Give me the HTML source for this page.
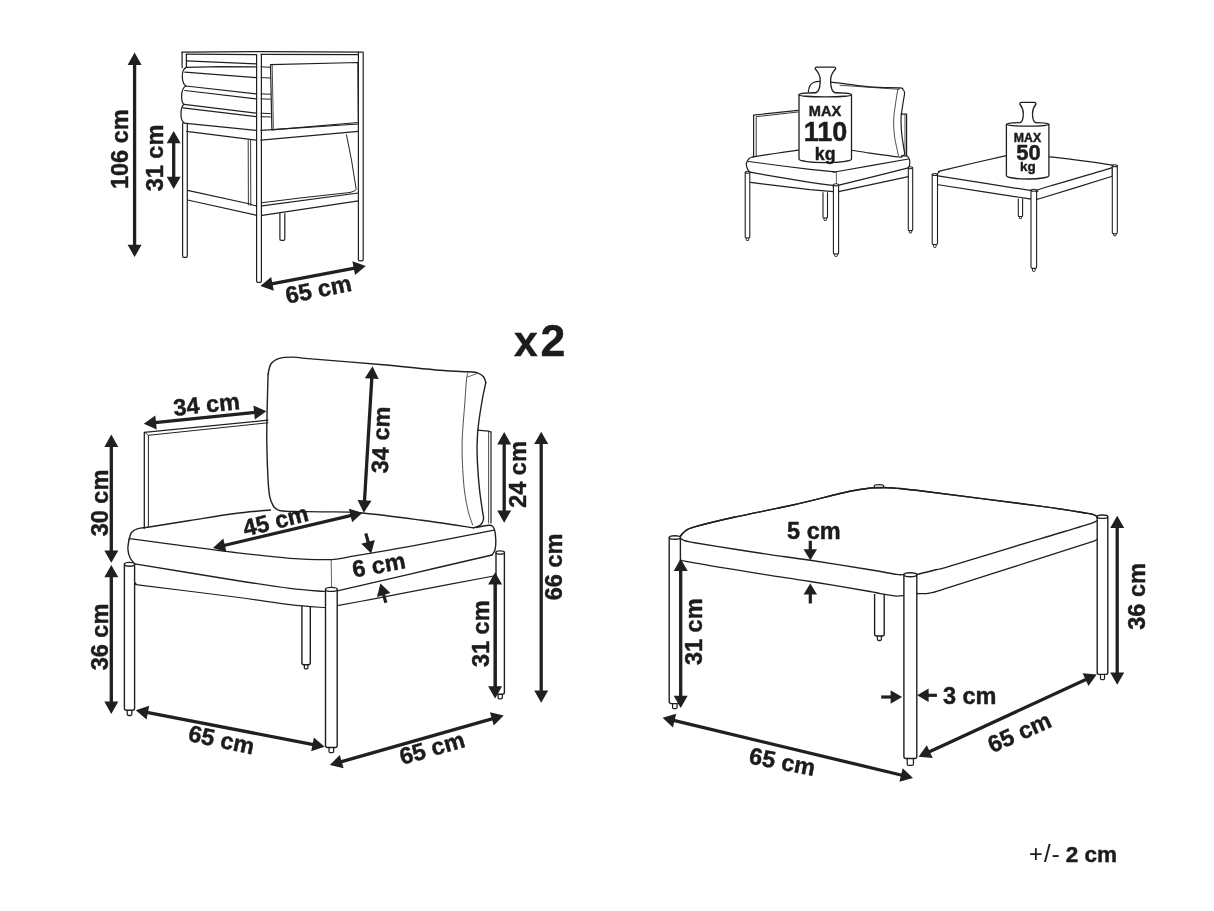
<!DOCTYPE html>
<html><head><meta charset="utf-8"><style>
html,body{margin:0;padding:0;background:#fff;}
svg{display:block;will-change:transform;}
text{font-family:"Liberation Sans",sans-serif;fill:#1c1c1c;stroke:#1c1c1c;stroke-width:0.45px;}
</style></head><body>
<svg width="1214" height="911" viewBox="0 0 1214 911">
<rect width="1214" height="911" fill="#fff"/>
<path d="M182.1,52.2 L270,51.6 L362.3,52.2" fill="none" stroke="#202020" stroke-width="1.25" stroke-linejoin="round" stroke-linecap="round"/>
<path d="M186.4,54.2 L256.5,54.7" fill="none" stroke="#202020" stroke-width="1.25" stroke-linejoin="round" stroke-linecap="round"/>
<path d="M261,54.3 L358.4,54.6" fill="none" stroke="#202020" stroke-width="1.25" stroke-linejoin="round" stroke-linecap="round"/>
<path d="M186.4,60.8 L256.5,63.8" fill="none" stroke="#202020" stroke-width="1.25" stroke-linejoin="round" stroke-linecap="round"/>
<path d="M186.4,67.3 L220,66.6 L256.5,66.8" fill="none" stroke="#202020" stroke-width="1.25" stroke-linejoin="round" stroke-linecap="round"/>
<path d="M186.4,67.3 Q182,69 182.3,77 Q182.6,84 185.9,86" fill="none" stroke="#202020" stroke-width="1.25" stroke-linejoin="round" stroke-linecap="round"/>
<path d="M184.9,72.2 L256.5,77.6" fill="none" stroke="#202020" stroke-width="1.25" stroke-linejoin="round" stroke-linecap="round"/>
<path d="M185.9,86 L256.5,93.9" fill="none" stroke="#202020" stroke-width="1.25" stroke-linejoin="round" stroke-linecap="round"/>
<path d="M185.9,86 Q181.5,88 181.6,97 Q181.8,103 183.9,104.3" fill="none" stroke="#202020" stroke-width="1.25" stroke-linejoin="round" stroke-linecap="round"/>
<path d="M184.9,90.5 L256.5,98.9" fill="none" stroke="#202020" stroke-width="1.25" stroke-linejoin="round" stroke-linecap="round"/>
<path d="M183.9,104.3 L256.5,113.2" fill="none" stroke="#202020" stroke-width="1.25" stroke-linejoin="round" stroke-linecap="round"/>
<path d="M183.9,104.3 Q180.8,107 181,115 Q181.2,121 183.9,122.6" fill="none" stroke="#202020" stroke-width="1.25" stroke-linejoin="round" stroke-linecap="round"/>
<path d="M182.9,107.8 L256.5,116.7" fill="none" stroke="#202020" stroke-width="1.25" stroke-linejoin="round" stroke-linecap="round"/>
<path d="M183.9,123.1 L256.5,130.4" fill="none" stroke="#202020" stroke-width="1.25" stroke-linejoin="round" stroke-linecap="round"/>
<path d="M261,66.8 L270.4,67.3" fill="none" stroke="#202020" stroke-width="1.0" stroke-linejoin="round" stroke-linecap="round"/>
<path d="M261,77.6 L270.4,78" fill="none" stroke="#202020" stroke-width="1.0" stroke-linejoin="round" stroke-linecap="round"/>
<path d="M261,93.9 L270.4,94.2" fill="none" stroke="#202020" stroke-width="1.0" stroke-linejoin="round" stroke-linecap="round"/>
<path d="M261,98.9 L270.4,99.2" fill="none" stroke="#202020" stroke-width="1.0" stroke-linejoin="round" stroke-linecap="round"/>
<path d="M261,113.2 L270.4,113.6" fill="none" stroke="#202020" stroke-width="1.0" stroke-linejoin="round" stroke-linecap="round"/>
<path d="M261,116.7 L270.4,117" fill="none" stroke="#202020" stroke-width="1.0" stroke-linejoin="round" stroke-linecap="round"/>
<line x1="182.1" y1="52.2" x2="182.1" y2="67.5" stroke="#202020" stroke-width="1.25" stroke-linecap="round"/>
<line x1="186.4" y1="54.2" x2="186.4" y2="67.3" stroke="#202020" stroke-width="1.25" stroke-linecap="round"/>
<path d="M182.6,123.5 L182.6,256.1 Q182.6,257.4 183.9,257.4 L186,257.4 Q187.3,257.4 187.3,256.1 L187.3,123.5" fill="none" stroke="#202020" stroke-width="1.2" stroke-linejoin="round" stroke-linecap="round"/>
<path d="M270.5,64.6 L357.9,62.5 L358.4,122.5 L271.9,129.9 Z" fill="none" stroke="#202020" stroke-width="1.2" stroke-linejoin="round" stroke-linecap="round"/>
<line x1="272.2" y1="65" x2="273.4" y2="129.6" stroke="#202020" stroke-width="0.8" stroke-linecap="round"/>
<path d="M186.6,131.3 L256.4,140.1" fill="none" stroke="#202020" stroke-width="1.25" stroke-linejoin="round" stroke-linecap="round"/>
<path d="M261,130.4 L358.4,124" fill="none" stroke="#202020" stroke-width="1.25" stroke-linejoin="round" stroke-linecap="round"/>
<path d="M261,140.1 L358.4,131.3" fill="none" stroke="#202020" stroke-width="1.25" stroke-linejoin="round" stroke-linecap="round"/>
<line x1="248.2" y1="140" x2="248.4" y2="205" stroke="#202020" stroke-width="0.9" stroke-linecap="round"/>
<line x1="250.6" y1="140" x2="250.8" y2="205.5" stroke="#202020" stroke-width="0.9" stroke-linecap="round"/>
<path d="M346.5,134.8 Q352,160 356.2,189.3 Q355,191.5 350,192.5" fill="none" stroke="#202020" stroke-width="1.0" stroke-linejoin="round" stroke-linecap="round"/>
<path d="M262.2,202.7 L300,198 L350,192.5" fill="none" stroke="#202020" stroke-width="1.0" stroke-linejoin="round" stroke-linecap="round"/>
<path d="M187.6,190.4 L250,204 Q254,205.6 256.4,205.8" fill="none" stroke="#202020" stroke-width="1.2" stroke-linejoin="round" stroke-linecap="round"/>
<path d="M187.6,200 L256.4,215.3" fill="none" stroke="#202020" stroke-width="1.25" stroke-linejoin="round" stroke-linecap="round"/>
<path d="M262.2,205.8 L358.4,193" fill="none" stroke="#202020" stroke-width="1.25" stroke-linejoin="round" stroke-linecap="round"/>
<path d="M262.2,215.3 L358.4,200.9" fill="none" stroke="#202020" stroke-width="1.25" stroke-linejoin="round" stroke-linecap="round"/>
<path d="M256.6,54.7 L256.6,281 Q256.6,282.3 257.9,282.3 L260.1,282.3 Q261.4,282.3 261.4,281 L261.4,54.7" fill="none" stroke="#202020" stroke-width="1.2" stroke-linejoin="round" stroke-linecap="round"/>
<path d="M358.4,52.2 L358.4,259.6 Q358.4,260.9 359.7,260.9 L361.9,260.9 Q363.2,260.9 363.2,259.6 L363.2,52.2" fill="none" stroke="#202020" stroke-width="1.2" stroke-linejoin="round" stroke-linecap="round"/>
<path d="M279.9,213.5 L279.9,239 Q279.9,240.3 281.2,240.3 L283.5,240.3 Q284.8,240.3 284.8,239 L284.8,213.5" fill="none" stroke="#202020" stroke-width="1.2" stroke-linejoin="round" stroke-linecap="round"/>
<line x1="134.6" y1="63.9" x2="134.6" y2="245.8" stroke="#202020" stroke-width="3.3"/>
<path d="M134.6,257.1 L127.6,244.8 L141.6,244.8 Z M134.6,52.6 L141.6,64.9 L127.6,64.9 Z" fill="#202020"/>
<line x1="173.7" y1="142.2" x2="173.7" y2="177.7" stroke="#202020" stroke-width="3.3"/>
<path d="M173.7,189 L166.7,176.7 L180.7,176.7 Z M173.7,130.9 L180.7,143.2 L166.7,143.2 Z" fill="#202020"/>
<line x1="271.5" y1="283.97" x2="354.7" y2="268.03" stroke="#202020" stroke-width="3.3"/>
<path d="M365.8,265.9 L355.04,275.09 L352.4,261.34 Z M260.4,286.1 L271.16,276.91 L273.8,290.66 Z" fill="#202020"/>
<text x="0" y="0" transform="translate(119.7,149.2) rotate(-90)" font-size="23.5" font-weight="bold" text-anchor="middle" dominant-baseline="central">106 cm</text>
<text x="0" y="0" transform="translate(154.6,158) rotate(-90)" font-size="23.5" font-weight="bold" text-anchor="middle" dominant-baseline="central">31 cm</text>
<text x="0" y="0" transform="translate(318.4,289.3) rotate(-11.5)" font-size="23.5" font-weight="bold" text-anchor="middle" dominant-baseline="central">65 cm</text>
<path d="M823,192.3 L823,216.88 Q823,218 824.12,218 L826.38,218 Q827.5,218 827.5,216.88 L827.5,192.3" fill="#fff" stroke="#202020" stroke-width="1.1" stroke-linejoin="round"/>
<path d="M824.05,218 L824.05,219.78 Q824.05,220.5 824.77,220.5 L825.73,220.5 Q826.45,220.5 826.45,219.78 L826.45,218" fill="none" stroke="#202020" stroke-width="0.9900000000000001" stroke-linejoin="round" stroke-linecap="round"/>
<path d="M808.3,92 Q809,84.5 813.4,82.5 Q816,81.3 820,81.3" fill="none" stroke="#202020" stroke-width="1.2" stroke-linejoin="round" stroke-linecap="round"/>
<path d="M830,81.8 C836.67,82.65 858.4,85.88 870,86.9 C881.6,87.92 894.17,87.48 899.6,87.9 C905.03,88.32 901.77,88.58 902.6,89.4 C903.43,90.22 904.52,90.58 904.6,92.8 C904.68,95.02 903.68,98.58 903.1,102.7 C902.52,106.82 901.35,112.57 901.1,117.5 C900.85,122.43 901.18,127.35 901.6,132.3 C902.02,137.25 903.1,143.57 903.6,147.2 C904.1,150.83 904.93,152.63 904.6,154.1 C904.27,155.57 902.1,155.68 901.6,156" fill="none" stroke="#202020" stroke-width="1.2" stroke-linejoin="round" stroke-linecap="round"/>
<line x1="840" y1="85.3" x2="899" y2="89.3" stroke="#202020" stroke-width="0.8" stroke-linecap="round"/>
<path d="M899.6,88.2 C899.28,88.63 898.35,88.38 897.7,90.8 C897.05,93.22 896.37,97.92 895.7,102.7 C895.03,107.48 893.87,113.73 893.7,119.5 C893.53,125.27 893.88,131.22 894.7,137.3 C895.52,143.38 897.95,152.88 898.6,156" fill="none" stroke="#202020" stroke-width="0.8" stroke-linejoin="round" stroke-linecap="round"/>
<path d="M851.5,150.2 C854.58,150.68 862.15,151.97 870,153.1 C877.85,154.23 893.33,156.52 898.6,157 C903.87,157.48 901.1,156.17 901.6,156" fill="none" stroke="#202020" stroke-width="1.1" stroke-linejoin="round" stroke-linecap="round"/>
<path d="M753.6,157 L753.6,115.1 L798,110.4" fill="none" stroke="#202020" stroke-width="1.2" stroke-linejoin="round" stroke-linecap="round"/>
<path d="M756.2,156 L756.2,116.7 L798,112" fill="none" stroke="#202020" stroke-width="0.9" stroke-linejoin="round" stroke-linecap="round"/>
<path d="M901.1,114.1 L906.6,114.1 L906.6,156" fill="none" stroke="#202020" stroke-width="1.2" stroke-linejoin="round" stroke-linecap="round"/>
<line x1="905" y1="114.5" x2="905" y2="155.5" stroke="#202020" stroke-width="0.8" stroke-linecap="round"/>
<path d="M753,156.8 C752.42,157.03 750.45,157.5 749.5,158.2 C748.55,158.9 747.83,159.92 747.3,161 C746.77,162.08 746.22,163.3 746.3,164.7 C746.38,166.1 747.2,168.15 747.8,169.4 C748.4,170.65 749.55,171.73 749.9,172.2" fill="none" stroke="#202020" stroke-width="1.25" stroke-linejoin="round" stroke-linecap="round"/>
<path d="M753,156.8 C756.67,156.25 767.43,154.6 775,153.5 C782.57,152.4 794.5,150.75 798.4,150.2" fill="none" stroke="#202020" stroke-width="1.2" stroke-linejoin="round" stroke-linecap="round"/>
<path d="M749.9,172.2 C759.92,173.9 795.98,180.17 810,182.4 C824.02,184.63 829.58,185.03 834,185.6 C838.42,186.17 835.67,185.87 836.5,185.8 C837.33,185.73 827.03,188.2 839,185.2 C850.97,182.2 896.75,170.7 908.3,167.8" fill="none" stroke="#202020" stroke-width="1.25" stroke-linejoin="round" stroke-linecap="round"/>
<path d="M748.3,161.5 C758.58,162.82 795.72,167.72 810,169.4 C824.28,171.08 829.58,171.2 834,171.6 C838.42,172 835.67,171.87 836.5,171.8 C837.33,171.73 827,173.33 839,171.2 C851,169.07 896.92,161.03 908.5,159" fill="none" stroke="#202020" stroke-width="1.15" stroke-linejoin="round" stroke-linecap="round"/>
<path d="M901.6,156 C902.43,156 905.45,155.75 906.6,156 C907.75,156.25 907.97,156.58 908.5,157.5 C909.03,158.42 909.65,160.17 909.8,161.5 C909.95,162.83 909.65,164.45 909.4,165.5 C909.15,166.55 908.48,167.42 908.3,167.8" fill="none" stroke="#202020" stroke-width="1.2" stroke-linejoin="round" stroke-linecap="round"/>
<line x1="836.4" y1="172" x2="836.4" y2="185.6" stroke="#202020" stroke-width="0.7" stroke-linecap="round"/>
<path d="M750.4,182.4 L810,189.7 L833.4,191.6" fill="none" stroke="#202020" stroke-width="1.2" stroke-linejoin="round" stroke-linecap="round"/>
<path d="M838.6,191.6 L908.3,176.7" fill="none" stroke="#202020" stroke-width="1.2" stroke-linejoin="round" stroke-linecap="round"/>
<path d="M745.2,172.3 L745.2,236.85 Q745.2,238 746.35,238 L748.65,238 Q749.8,238 749.8,236.85 L749.8,172.3" fill="#fff" stroke="#202020" stroke-width="1.1" stroke-linejoin="round"/>
<ellipse cx="747.5" cy="172.3" rx="2.3" ry="1" fill="#fff" stroke="#202020" stroke-width="1.1"/>
<path d="M746.3,238 L746.3,239.78 Q746.3,240.5 747.02,240.5 L747.98,240.5 Q748.7,240.5 748.7,239.78 L748.7,238" fill="none" stroke="#202020" stroke-width="0.9900000000000001" stroke-linejoin="round" stroke-linecap="round"/>
<path d="M833.4,184.8 L833.4,252.7 Q833.4,254 834.7,254 L837.3,254 Q838.6,254 838.6,252.7 L838.6,184.8" fill="#fff" stroke="#202020" stroke-width="1.1" stroke-linejoin="round"/>
<ellipse cx="836" cy="184.8" rx="2.6" ry="1.1" fill="#fff" stroke="#202020" stroke-width="1.1"/>
<path d="M834.7,254 L834.7,255.72 Q834.7,256.5 835.48,256.5 L836.52,256.5 Q837.3,256.5 837.3,255.72 L837.3,254" fill="none" stroke="#202020" stroke-width="0.9900000000000001" stroke-linejoin="round" stroke-linecap="round"/>
<path d="M908.3,167.8 L908.3,229.4 Q908.3,230.5 909.4,230.5 L911.6,230.5 Q912.7,230.5 912.7,229.4 L912.7,167.8" fill="#fff" stroke="#202020" stroke-width="1.1" stroke-linejoin="round"/>
<ellipse cx="910.5" cy="167.8" rx="2.2" ry="1" fill="#fff" stroke="#202020" stroke-width="1.1"/>
<path d="M909.3,230.5 L909.3,232.28 Q909.3,233 910.02,233 L910.98,233 Q911.7,233 911.7,232.28 L911.7,230.5" fill="none" stroke="#202020" stroke-width="0.9900000000000001" stroke-linejoin="round" stroke-linecap="round"/>
<path d="M799,94.7 L799,159.1 A26.25,3.5 0 0 0 851.5,159.1 L851.5,94.7 Z" fill="#fff" stroke="none"/>
<path d="M799,94.7 L799,159.1 A26.25,3.5 0 0 0 851.5,159.1 L851.5,94.7" fill="none" stroke="#202020" stroke-width="1.3" stroke-linejoin="round" stroke-linecap="round"/>
<ellipse cx="825.25" cy="94.7" rx="26.25" ry="2.2" fill="none" stroke="#202020" stroke-width="1.3"/>
<path d="M814.9,92.9 Q820.2,92.6 820.2,80 Q820.2,74.19 815.1,68.7 Q815.1,67.1 816.7,67.1 L834.1,67.1 Q835.7,67.1 835.7,68.7 Q830.6,74.19 830.6,80 Q830.6,92.6 835.9,92.9 L833.9,94.7 L816.9,94.7 Z" fill="#fff" stroke="none"/>
<path d="M814.9,92.9 Q820.2,92.6 820.2,80 Q820.2,74.19 815.1,68.7 Q815.1,67.1 816.7,67.1 L834.1,67.1 Q835.7,67.1 835.7,68.7 Q830.6,74.19 830.6,80 Q830.6,92.6 835.9,92.9" fill="none" stroke="#202020" stroke-width="1.3" stroke-linejoin="round"/>
<text x="0" y="0" transform="translate(825,111.3) rotate(0)" font-size="14.6" font-weight="bold" text-anchor="middle" dominant-baseline="central">MAX</text>
<text x="0" y="0" transform="translate(825.6,131.9) rotate(0)" font-size="27" font-weight="bold" text-anchor="middle" dominant-baseline="central">110</text>
<text x="0" y="0" transform="translate(825.2,153.6) rotate(0)" font-size="17.8" font-weight="bold" text-anchor="middle" dominant-baseline="central">kg</text>
<path d="M1018.3,198.4 L1018.3,215.42 Q1018.3,216.5 1019.38,216.5 L1021.52,216.5 Q1022.6,216.5 1022.6,215.42 L1022.6,198.4" fill="#fff" stroke="#202020" stroke-width="1.1" stroke-linejoin="round"/>
<path d="M1019.35,216.5 L1019.35,217.84 Q1019.35,218.5 1020.01,218.5 L1020.89,218.5 Q1021.55,218.5 1021.55,217.84 L1021.55,216.5" fill="none" stroke="#202020" stroke-width="0.9900000000000001" stroke-linejoin="round" stroke-linecap="round"/>
<path d="M936.9,174.7 C937.23,174.07 938.18,172.62 939.5,171.8 C940.82,170.98 933.87,172.45 944.8,169.8 C955.73,167.15 993.9,158.33 1005.1,155.9 C1016.3,153.47 1004.57,155.03 1012,155.2 C1019.43,155.37 1033.53,155.33 1049.7,156.9 C1065.87,158.47 1098.57,163.05 1109,164.6 C1119.43,166.15 1111.88,165.67 1112.3,166.2 C1112.72,166.73 1121.88,164.5 1111.5,167.8 C1101.12,171.1 1062.25,182.33 1050,186 C1037.75,189.67 1040.67,189.03 1038,189.8 C1035.33,190.57 1035.33,190.5 1034,190.6 C1032.67,190.7 1045.5,192.77 1030,190.4 C1014.5,188.03 956.42,178.87 941,176.4 C925.58,173.93 938.18,175.88 937.5,175.6 C936.82,175.32 936.57,175.33 936.9,174.7 Z" fill="#fff" stroke="#202020" stroke-width="1.25" stroke-linejoin="round" stroke-linecap="round"/>
<line x1="936.9" y1="175.5" x2="937.2" y2="184.1" stroke="#202020" stroke-width="1.1" stroke-linecap="round"/>
<line x1="1112.3" y1="167.5" x2="1112.3" y2="176.3" stroke="#202020" stroke-width="1.1" stroke-linecap="round"/>
<path d="M937.3,184.1 C937.75,184.25 924.88,182.58 940,185 C955.12,187.42 1012.78,196.28 1028,198.6 C1043.22,200.92 1030.75,198.85 1031.3,198.9" fill="none" stroke="#202020" stroke-width="1.2" stroke-linejoin="round" stroke-linecap="round"/>
<path d="M1037.4,199 C1038,198.87 1028.52,201.98 1041,198.2 C1053.48,194.42 1100.42,179.95 1112.3,176.3" fill="none" stroke="#202020" stroke-width="1.2" stroke-linejoin="round" stroke-linecap="round"/>
<path d="M932.2,174.5 L932.2,243.18 Q932.2,244.5 933.53,244.5 L936.17,244.5 Q937.5,244.5 937.5,243.18 L937.5,174.5" fill="#fff" stroke="#202020" stroke-width="1.1" stroke-linejoin="round"/>
<ellipse cx="934.85" cy="174.5" rx="2.65" ry="1" fill="#fff" stroke="#202020" stroke-width="1.1"/>
<path d="M933.65,244.5 L933.65,246.78 Q933.65,247.5 934.37,247.5 L935.33,247.5 Q936.05,247.5 936.05,246.78 L936.05,244.5" fill="none" stroke="#202020" stroke-width="0.9900000000000001" stroke-linejoin="round" stroke-linecap="round"/>
<path d="M1031,190.2 L1031,267 Q1031,268.4 1032.4,268.4 L1035.2,268.4 Q1036.6,268.4 1036.6,267 L1036.6,190.2" fill="#fff" stroke="#202020" stroke-width="1.1" stroke-linejoin="round"/>
<ellipse cx="1033.8" cy="190.2" rx="2.8" ry="1" fill="#fff" stroke="#202020" stroke-width="1.1"/>
<path d="M1032.5,268.4 L1032.5,270.62 Q1032.5,271.4 1033.28,271.4 L1034.32,271.4 Q1035.1,271.4 1035.1,270.62 L1035.1,268.4" fill="none" stroke="#202020" stroke-width="0.9900000000000001" stroke-linejoin="round" stroke-linecap="round"/>
<path d="M1112.3,165.8 L1112.3,232.55 Q1112.3,233.8 1113.55,233.8 L1116.05,233.8 Q1117.3,233.8 1117.3,232.55 L1117.3,165.8" fill="#fff" stroke="#202020" stroke-width="1.1" stroke-linejoin="round"/>
<ellipse cx="1114.8" cy="165.8" rx="2.5" ry="1" fill="#fff" stroke="#202020" stroke-width="1.1"/>
<path d="M1113.6,233.8 L1113.6,235.08 Q1113.6,235.8 1114.32,235.8 L1115.28,235.8 Q1116,235.8 1116,235.08 L1116,233.8" fill="none" stroke="#202020" stroke-width="0.9900000000000001" stroke-linejoin="round" stroke-linecap="round"/>
<path d="M1006.4,124.3 L1006.4,175.5 A21.25,3.5 0 0 0 1048.9,175.5 L1048.9,124.3 Z" fill="#fff" stroke="none"/>
<path d="M1006.4,124.3 L1006.4,175.5 A21.25,3.5 0 0 0 1048.9,175.5 L1048.9,124.3" fill="none" stroke="#202020" stroke-width="1.3" stroke-linejoin="round" stroke-linecap="round"/>
<ellipse cx="1027.65" cy="124.3" rx="21.25" ry="1.9" fill="none" stroke="#202020" stroke-width="1.3"/>
<path d="M1019.3,122.8 Q1023.3,122.5 1023.3,113.5 Q1023.3,108.5 1019.8,104 Q1019.8,102.4 1021.4,102.4 L1034.4,102.4 Q1036,102.4 1036,104 Q1032.5,108.5 1032.5,113.5 Q1032.5,122.5 1036.5,122.8 L1034.5,124.3 L1021.3,124.3 Z" fill="#fff" stroke="none"/>
<path d="M1019.3,122.8 Q1023.3,122.5 1023.3,113.5 Q1023.3,108.5 1019.8,104 Q1019.8,102.4 1021.4,102.4 L1034.4,102.4 Q1036,102.4 1036,104 Q1032.5,108.5 1032.5,113.5 Q1032.5,122.5 1036.5,122.8" fill="none" stroke="#202020" stroke-width="1.3" stroke-linejoin="round"/>
<text x="0" y="0" transform="translate(1027.5,138.3) rotate(0)" font-size="12.3" font-weight="bold" text-anchor="middle" dominant-baseline="central">MAX</text>
<text x="0" y="0" transform="translate(1028.4,152.3) rotate(0)" font-size="22" font-weight="bold" text-anchor="middle" dominant-baseline="central">50</text>
<text x="0" y="0" transform="translate(1027.9,166.9) rotate(0)" font-size="13.4" font-weight="bold" text-anchor="middle" dominant-baseline="central">kg</text>
<path d="M301.9,606 L301.9,662.8 Q301.9,664.8 303.9,664.8 L308.3,664.8 Q310.3,664.8 310.3,662.8 L310.3,606" fill="#fff" stroke="#202020" stroke-width="1.4" stroke-linejoin="round"/>
<path d="M304.34,664.8 L304.34,667.74 Q304.34,668.8 305.39,668.8 L306.81,668.8 Q307.86,668.8 307.86,667.74 L307.86,664.8" fill="none" stroke="#202020" stroke-width="1.26" stroke-linejoin="round" stroke-linecap="round"/>
<path d="M273.7,506.7 C273.07,505.15 270.83,501.75 269.9,497.4 C268.97,493.05 268.62,489.62 268.1,480.6 C267.58,471.58 266.97,454.8 266.8,443.3 C266.63,431.8 266.88,423.1 267.1,411.6 C267.32,400.1 267.93,380.52 268.1,374.3" fill="none" stroke="#202020" stroke-width="1.4" stroke-linejoin="round" stroke-linecap="round"/>
<path d="M268.1,374.3 C268.57,372.58 269.03,366.65 270.9,364 C272.77,361.35 275.73,359.55 279.3,358.4 C282.87,357.25 288.02,357.1 292.3,357.1 C296.58,357.1 302.88,358.18 305,358.4" fill="none" stroke="#202020" stroke-width="1.4" stroke-linejoin="round" stroke-linecap="round"/>
<path d="M305,358.4 C317.5,359.42 357.5,362.52 380,364.5 C402.5,366.48 425.38,369.08 440,370.3 C454.62,371.52 461.45,371.38 467.7,371.8 C473.95,372.22 474.87,371.98 477.5,372.8 C480.13,373.62 482.12,375.05 483.5,376.7 C484.88,378.35 485.42,381.7 485.8,382.7" fill="none" stroke="#202020" stroke-width="1.4" stroke-linejoin="round" stroke-linecap="round"/>
<path d="M485.8,382.7 C485.25,385.33 483.72,391.58 482.5,398.5 C481.28,405.42 479.4,416.63 478.5,424.2 C477.6,431.77 477.27,437.32 477.1,443.9 C476.93,450.48 477.1,456.12 477.5,463.7 C477.9,471.28 478.67,481.5 479.5,489.4 C480.33,497.3 481.83,506.17 482.5,511.1 C483.17,516.03 483.83,516.7 483.5,519 C483.17,521.3 482.15,523.42 480.5,524.9 C478.85,526.38 474.75,527.4 473.6,527.9" fill="none" stroke="#202020" stroke-width="1.4" stroke-linejoin="round" stroke-linecap="round"/>
<path d="M467.7,373 C467.5,374.17 467,374.77 466.5,380 C466,385.23 465.43,393.75 464.7,404.4 C463.97,415.05 462.27,430.73 462.1,443.9 C461.93,457.07 462.77,472.53 463.7,483.4 C464.63,494.27 466.22,502.18 467.7,509.1 C469.18,516.02 471.78,522.27 472.6,524.9" fill="none" stroke="#202020" stroke-width="0.8" stroke-linejoin="round" stroke-linecap="round"/>
<line x1="467.7" y1="377" x2="477" y2="373.5" stroke="#202020" stroke-width="0.7" stroke-linecap="round"/>
<path d="M273.7,506.7 C274.63,507.33 276.2,509.72 279.3,510.5 C282.4,511.28 284.68,511.18 292.3,511.4 C299.92,511.62 313.3,511.53 325,511.8 C336.7,512.07 346.67,511.63 362.5,513 C378.33,514.37 401.48,517.52 420,520 C438.52,522.48 464.67,526.58 473.6,527.9" fill="none" stroke="#202020" stroke-width="1.3" stroke-linejoin="round" stroke-linecap="round"/>
<path d="M144.3,528.3 L144.3,432.3 L268,420.2" fill="none" stroke="#202020" stroke-width="1.3" stroke-linejoin="round" stroke-linecap="round"/>
<path d="M148.4,526.4 L148.4,435.3 L268,422.8" fill="none" stroke="#202020" stroke-width="1.0" stroke-linejoin="round" stroke-linecap="round"/>
<line x1="144.6" y1="432.3" x2="148.4" y2="435.3" stroke="#202020" stroke-width="0.8" stroke-linecap="round"/>
<path d="M477.5,430.1 L488.4,431.1 L491,432" fill="none" stroke="#202020" stroke-width="1.2" stroke-linejoin="round" stroke-linecap="round"/>
<line x1="491" y1="432" x2="491" y2="523" stroke="#202020" stroke-width="1.2" stroke-linecap="round"/>
<line x1="488.6" y1="431.5" x2="488.6" y2="523" stroke="#202020" stroke-width="0.8" stroke-linecap="round"/>
<path d="M128.9,540 C129.33,538.75 129.98,534.4 131.5,532.5 C133.02,530.6 135.32,529.47 138,528.6 C140.68,527.73 138.93,528.65 147.6,527.3 C156.27,525.95 175.43,522.8 190,520.5 C204.57,518.2 221.58,515.25 235,513.5 C248.42,511.75 264.58,510.58 270.5,510" fill="none" stroke="#202020" stroke-width="1.4" stroke-linejoin="round" stroke-linecap="round"/>
<path d="M476,527.5 C478.23,527.13 486.4,525.13 489.4,525.3 C492.4,525.47 492.93,526.05 494,528.5 C495.07,530.95 495.63,536.42 495.8,540 C495.97,543.58 495.63,547.5 495,550 C494.37,552.5 492.5,554.17 492,555" fill="none" stroke="#202020" stroke-width="1.4" stroke-linejoin="round" stroke-linecap="round"/>
<path d="M492,555 C485,556.62 463.67,561.52 450,564.7 C436.33,567.88 428.77,569.73 410,574.1 C391.23,578.47 350.65,587.95 337.4,590.9 C324.15,593.85 332.8,591.72 330.5,591.8 C328.2,591.88 330.35,591.97 323.6,591.4 C316.85,590.83 304.77,590.27 290,588.4 C275.23,586.53 260.87,584.28 235,580.2 C209.13,576.12 151.5,566.62 134.8,563.9" fill="none" stroke="#202020" stroke-width="1.4" stroke-linejoin="round" stroke-linecap="round"/>
<path d="M134.8,563.9 C134.03,562.92 131.35,560.4 130.2,558 C129.05,555.6 128.12,552.5 127.9,549.5 C127.68,546.5 128.73,541.58 128.9,540" fill="none" stroke="#202020" stroke-width="1.4" stroke-linejoin="round" stroke-linecap="round"/>
<path d="M129.8,538.7 C138.17,539.8 162.47,543 180,545.3 C197.53,547.6 216.67,550.33 235,552.5 C253.33,554.67 273.92,557.12 290,558.3 C306.08,559.48 321.62,559.85 331.5,559.6 C341.38,559.35 336.22,559 349.3,556.8 C362.38,554.6 385.85,550.83 410,546.4 C434.15,541.97 480.17,532.9 494.2,530.2" fill="none" stroke="#202020" stroke-width="1.3" stroke-linejoin="round" stroke-linecap="round"/>
<line x1="331.2" y1="560" x2="331.6" y2="587.5" stroke="#202020" stroke-width="0.7" stroke-linecap="round"/>
<path d="M134.5,582.2 C134.83,582.55 135.63,583.82 136.5,584.3 C137.37,584.78 123.28,582.98 139.7,585.1 C156.12,587.22 209.95,593.73 235,597 C260.05,600.27 274.9,602.92 290,604.7 C305.1,606.48 319.67,607.2 325.6,607.7" fill="none" stroke="#202020" stroke-width="1.2" stroke-linejoin="round" stroke-linecap="round"/>
<path d="M337.4,605.7 C342.83,604.68 357.9,601.9 370,599.6 C382.1,597.3 388.93,595.92 410,591.9 C431.07,587.88 482,578.23 496.4,575.5" fill="none" stroke="#202020" stroke-width="1.2" stroke-linejoin="round" stroke-linecap="round"/>
<path d="M124.4,564.3 L124.4,708.3 Q124.4,710.3 126.4,710.3 L132.6,710.3 Q134.6,710.3 134.6,708.3 L134.6,564.3" fill="#fff" stroke="#202020" stroke-width="1.4" stroke-linejoin="round"/>
<ellipse cx="129.5" cy="564.3" rx="5.1" ry="1.9" fill="#fff" stroke="#202020" stroke-width="1.4"/>
<path d="M127.2,710.3 L127.2,714.3 Q127.2,715.5 128.4,715.5 L130.6,715.5 Q131.8,715.5 131.8,714.3 L131.8,710.3" fill="none" stroke="#202020" stroke-width="1.26" stroke-linejoin="round" stroke-linecap="round"/>
<path d="M325.5,589.4 L325.5,745.5 Q325.5,747.5 327.5,747.5 L335.2,747.5 Q337.2,747.5 337.2,745.5 L337.2,589.4" fill="#fff" stroke="#202020" stroke-width="1.4" stroke-linejoin="round"/>
<ellipse cx="331.35" cy="589.4" rx="5.85" ry="2" fill="#fff" stroke="#202020" stroke-width="1.4"/>
<path d="M329.05,747.5 L329.05,751.5 Q329.05,752.7 330.25,752.7 L332.45,752.7 Q333.65,752.7 333.65,751.5 L333.65,747.5" fill="none" stroke="#202020" stroke-width="1.26" stroke-linejoin="round" stroke-linecap="round"/>
<path d="M496,552.5 L496,692.3 Q496,694.3 498,694.3 L502.4,694.3 Q504.4,694.3 504.4,692.3 L504.4,552.5" fill="#fff" stroke="#202020" stroke-width="1.4" stroke-linejoin="round"/>
<ellipse cx="500.2" cy="552.5" rx="4.2" ry="1.6" fill="#fff" stroke="#202020" stroke-width="1.4"/>
<path d="M498.1,694.3 L498.1,697.7 Q498.1,698.9 499.3,698.9 L501.1,698.9 Q502.3,698.9 502.3,697.7 L502.3,694.3" fill="none" stroke="#202020" stroke-width="1.26" stroke-linejoin="round" stroke-linecap="round"/>
<line x1="111.3" y1="445.9" x2="111.3" y2="551.4" stroke="#202020" stroke-width="3.3"/>
<path d="M111.3,562.7 L104.3,550.4 L118.3,550.4 Z M111.3,434.6 L118.3,446.9 L104.3,446.9 Z" fill="#202020"/>
<line x1="111.3" y1="576.3" x2="111.3" y2="702.6" stroke="#202020" stroke-width="3.3"/>
<path d="M111.3,713.9 L104.3,701.6 L118.3,701.6 Z M111.3,565 L118.3,577.3 L104.3,577.3 Z" fill="#202020"/>
<line x1="155.04" y1="422.65" x2="255.16" y2="412.45" stroke="#202020" stroke-width="3.3"/>
<path d="M266.4,411.3 L254.87,419.51 L253.45,405.58 Z M143.8,423.8 L155.33,415.59 L156.75,429.52 Z" fill="#202020"/>
<line x1="371.83" y1="377.58" x2="364.47" y2="501.42" stroke="#202020" stroke-width="3.3"/>
<path d="M363.8,512.7 L357.54,500.01 L371.52,500.84 Z M372.5,366.3 L378.76,378.99 L364.78,378.16 Z" fill="#202020"/>
<line x1="223.9" y1="545.5" x2="351.5" y2="515.3" stroke="#202020" stroke-width="3.3"/>
<path d="M362.5,512.7 L352.14,522.34 L348.92,508.72 Z M212.9,548.1 L223.26,538.46 L226.48,552.08 Z" fill="#202020"/>
<line x1="504.2" y1="443.4" x2="504.2" y2="511.4" stroke="#202020" stroke-width="3.3"/>
<path d="M504.2,522.7 L497.2,510.4 L511.2,510.4 Z M504.2,432.1 L511.2,444.4 L497.2,444.4 Z" fill="#202020"/>
<line x1="541.2" y1="443.1" x2="541.2" y2="691.5" stroke="#202020" stroke-width="3.3"/>
<path d="M541.2,702.8 L534.2,690.5 L548.2,690.5 Z M541.2,431.8 L548.2,444.1 L534.2,444.1 Z" fill="#202020"/>
<line x1="495.1" y1="583.5" x2="495.1" y2="687.3" stroke="#202020" stroke-width="3.3"/>
<path d="M495.1,698.6 L488.1,686.3 L502.1,686.3 Z M495.1,572.2 L502.1,584.5 L488.1,584.5 Z" fill="#202020"/>
<line x1="146.9" y1="712.44" x2="313.5" y2="744.56" stroke="#202020" stroke-width="3.3"/>
<path d="M324.6,746.7 L311.2,751.24 L313.85,737.5 Z M135.8,710.3 L149.2,705.76 L146.55,719.5 Z" fill="#202020"/>
<line x1="340.77" y1="761.9" x2="492.83" y2="718.6" stroke="#202020" stroke-width="3.3"/>
<path d="M503.7,715.5 L493.79,725.6 L489.95,712.14 Z M329.9,765 L339.81,754.9 L343.65,768.36 Z" fill="#202020"/>
<line x1="365.8" y1="533.3" x2="368.35" y2="542.78" stroke="#202020" stroke-width="3.2"/>
<path d="M371.2,553.4 L361.33,543.63 L374.85,539.99 Z" fill="#202020"/>
<line x1="385.9" y1="602.8" x2="383.41" y2="594.08" stroke="#202020" stroke-width="3.2"/>
<path d="M380.4,583.5 L390.42,593.12 L376.96,596.96 Z" fill="#202020"/>
<text x="0" y="0" transform="translate(206.5,404.5) rotate(-6)" font-size="23.5" font-weight="bold" text-anchor="middle" dominant-baseline="central">34 cm</text>
<text x="0" y="0" transform="translate(99.5,503) rotate(-90)" font-size="23.5" font-weight="bold" text-anchor="middle" dominant-baseline="central">30 cm</text>
<text x="0" y="0" transform="translate(99.5,637) rotate(-90)" font-size="23.5" font-weight="bold" text-anchor="middle" dominant-baseline="central">36 cm</text>
<text x="0" y="0" transform="translate(380.9,439.9) rotate(-88)" font-size="23.5" font-weight="bold" text-anchor="middle" dominant-baseline="central">34 cm</text>
<text x="0" y="0" transform="translate(275.6,520.8) rotate(-14)" font-size="23.5" font-weight="bold" text-anchor="middle" dominant-baseline="central">45 cm</text>
<text x="0" y="0" transform="translate(518.4,474.5) rotate(-90)" font-size="23.5" font-weight="bold" text-anchor="middle" dominant-baseline="central">24 cm</text>
<text x="0" y="0" transform="translate(554.3,566.9) rotate(-90)" font-size="23.5" font-weight="bold" text-anchor="middle" dominant-baseline="central">66 cm</text>
<text x="0" y="0" transform="translate(481,633.8) rotate(-90)" font-size="23.5" font-weight="bold" text-anchor="middle" dominant-baseline="central">31 cm</text>
<text x="0" y="0" transform="translate(378.8,565) rotate(-10)" font-size="23.5" font-weight="bold" text-anchor="middle" dominant-baseline="central">6 cm</text>
<text x="0" y="0" transform="translate(221.5,739.9) rotate(12)" font-size="23.5" font-weight="bold" text-anchor="middle" dominant-baseline="central">65 cm</text>
<text x="0" y="0" transform="translate(432,748.2) rotate(-16)" font-size="23.5" font-weight="bold" text-anchor="middle" dominant-baseline="central">65 cm</text>
<text x="514" y="356.4" font-size="42.5" font-weight="bold">x</text>
<text x="540.4" y="356.4" font-size="44.6" font-weight="bold">2</text>
<path d="M874.6,594 L874.6,634 Q874.6,636 876.6,636 L882.2,636 Q884.2,636 884.2,634 L884.2,594" fill="#fff" stroke="#202020" stroke-width="1.4" stroke-linejoin="round"/>
<path d="M877.4,636 L877.4,639.3 Q877.4,640.5 878.6,640.5 L880.2,640.5 Q881.4,640.5 881.4,639.3 L881.4,636" fill="none" stroke="#202020" stroke-width="1.26" stroke-linejoin="round" stroke-linecap="round"/>
<path d="M680,537.3 C680,535.77 682.28,533.23 684.7,531.5 C687.12,529.77 686.12,529.32 694.5,526.9 C702.88,524.48 718.58,520.65 735,517 C751.42,513.35 775.5,508.92 793,505 C810.5,501.08 828.87,496.08 840,493.5 C851.13,490.92 853.32,490.5 859.8,489.5 C866.28,488.5 872.32,487.67 878.9,487.5 C885.48,487.33 892.45,487.95 899.3,488.5 C906.15,489.05 896.55,487.87 920,490.8 C943.45,493.73 1012.32,502.38 1040,506.1 C1067.68,509.82 1076.88,511.55 1086.1,513.1 C1095.32,514.65 1093.45,514.63 1095.3,515.4 C1097.15,516.17 1097.45,516.55 1097.2,517.7 C1096.95,518.85 1103.33,518.78 1093.8,522.3 C1084.27,525.82 1063.97,531.5 1040,538.8 C1016.03,546.1 967.35,560.93 950,566.1 C932.65,571.27 941.43,568.4 935.9,569.8 C930.37,571.2 921.07,573.6 916.8,574.5 C912.53,575.4 912.45,575.2 910.3,575.2 C908.15,575.2 906.22,574.63 903.9,574.5 C901.58,574.37 902.05,575.18 896.4,574.4 C890.75,573.62 884.35,572.15 870,569.8 C855.65,567.45 826.97,562.83 810.3,560.3 C793.63,557.77 782.55,556.43 770,554.6 C757.45,552.77 747.58,551.28 735,549.3 C722.42,547.32 702.88,544.13 694.5,542.7 C686.12,541.27 687.12,541.6 684.7,540.7 C682.28,539.8 680,538.83 680,537.3 Z" fill="#fff" stroke="#202020" stroke-width="1.4" stroke-linejoin="round" stroke-linecap="round"/>
<path d="M680.4,558.8 C681.12,559.18 675.6,559.28 684.7,561.1 C693.8,562.92 720.78,567.33 735,569.7 C749.22,572.07 757.45,573.33 770,575.3 C782.55,577.27 793.63,578.8 810.3,581.5 C826.97,584.2 857.85,589.38 870,591.5 C882.15,593.62 878.8,593.43 883.2,594.2 C887.6,594.97 892.95,595.88 896.4,596.1 C899.85,596.32 902.65,595.6 903.9,595.5" fill="none" stroke="#202020" stroke-width="1.3" stroke-linejoin="round" stroke-linecap="round"/>
<path d="M916.8,593.5 C918.88,593.45 923.77,594.25 929.3,593.2 C934.83,592.15 931.55,593 950,587.2 C968.45,581.4 1016.67,565.88 1040,558.4 C1063.33,550.92 1080.47,545.5 1090,542.3 C1099.53,539.1 1096,539.72 1097.2,539.2" fill="none" stroke="#202020" stroke-width="1.3" stroke-linejoin="round" stroke-linecap="round"/>
<ellipse cx="879" cy="486.3" rx="4.8" ry="1.7" fill="#fff" stroke="#202020" stroke-width="1.2"/>
<path d="M680,537.3 C680.78,536.33 682.28,533.23 684.7,531.5 C687.12,529.77 686.12,529.32 694.5,526.9 C702.88,524.48 718.58,520.65 735,517 C751.42,513.35 775.5,508.92 793,505 C810.5,501.08 828.87,496.08 840,493.5 C851.13,490.92 853.32,490.5 859.8,489.5 C866.28,488.5 872.32,487.67 878.9,487.5 C885.48,487.33 892.45,487.95 899.3,488.5 C906.15,489.05 896.55,487.87 920,490.8 C943.45,493.73 1012.32,502.38 1040,506.1 C1067.68,509.82 1076.88,511.55 1086.1,513.1 C1095.32,514.65 1093.45,514.63 1095.3,515.4 C1097.15,516.17 1096.88,517.32 1097.2,517.7" fill="none" stroke="#202020" stroke-width="1.4" stroke-linejoin="round" stroke-linecap="round"/>
<path d="M669.2,537.5 L669.2,701.6 Q669.2,703.6 671.2,703.6 L678.4,703.6 Q680.4,703.6 680.4,701.6 L680.4,537.5" fill="#fff" stroke="#202020" stroke-width="1.4" stroke-linejoin="round"/>
<ellipse cx="674.8" cy="537.5" rx="5.6" ry="1.8" fill="#fff" stroke="#202020" stroke-width="1.4"/>
<path d="M672.6,703.6 L672.6,707.5 Q672.6,708.7 673.8,708.7 L675.8,708.7 Q677,708.7 677,707.5 L677,703.6" fill="none" stroke="#202020" stroke-width="1.26" stroke-linejoin="round" stroke-linecap="round"/>
<path d="M903.9,574.7 L903.9,756.5 Q903.9,758.5 905.9,758.5 L914.8,758.5 Q916.8,758.5 916.8,756.5 L916.8,574.7" fill="#fff" stroke="#202020" stroke-width="1.4" stroke-linejoin="round"/>
<ellipse cx="910.35" cy="574.7" rx="6.45" ry="2" fill="#fff" stroke="#202020" stroke-width="1.4"/>
<path d="M907.25,758.5 L907.25,764.2 Q907.25,765.4 908.45,765.4 L912.25,765.4 Q913.45,765.4 913.45,764.2 L913.45,758.5" fill="none" stroke="#202020" stroke-width="1.26" stroke-linejoin="round" stroke-linecap="round"/>
<path d="M1097.2,516.7 L1097.2,672.4 Q1097.2,674.4 1099.2,674.4 L1105.8,674.4 Q1107.8,674.4 1107.8,672.4 L1107.8,516.7" fill="#fff" stroke="#202020" stroke-width="1.4" stroke-linejoin="round"/>
<ellipse cx="1102.5" cy="516.7" rx="5.3" ry="1.7" fill="#fff" stroke="#202020" stroke-width="1.4"/>
<path d="M1100.5,674.4 L1100.5,678.4 Q1100.5,679.6 1101.7,679.6 L1103.3,679.6 Q1104.5,679.6 1104.5,678.4 L1104.5,674.4" fill="none" stroke="#202020" stroke-width="1.26" stroke-linejoin="round" stroke-linecap="round"/>
<line x1="810.3" y1="540.7" x2="810.3" y2="550.3" stroke="#202020" stroke-width="3.2"/>
<path d="M810.3,560.3 L803.55,549.3 L817.05,549.3 Z" fill="#202020"/>
<line x1="810.3" y1="603.5" x2="810.3" y2="593.4" stroke="#202020" stroke-width="3.2"/>
<path d="M810.3,583.4 L817.05,594.4 L803.55,594.4 Z" fill="#202020"/>
<line x1="680.7" y1="570.1" x2="680.7" y2="696.7" stroke="#202020" stroke-width="3.3"/>
<path d="M680.7,708 L673.7,695.7 L687.7,695.7 Z M680.7,558.8 L687.7,571.1 L673.7,571.1 Z" fill="#202020"/>
<line x1="1117.2" y1="527" x2="1117.2" y2="673.4" stroke="#202020" stroke-width="3.3"/>
<path d="M1117.2,684.7 L1110.2,672.4 L1124.2,672.4 Z M1117.2,515.7 L1124.2,528 L1110.2,528 Z" fill="#202020"/>
<line x1="881.2" y1="697" x2="891.6" y2="697" stroke="#202020" stroke-width="3.2"/>
<path d="M902.1,697 L890.6,703.7 L890.6,690.3 Z" fill="#202020"/>
<line x1="936.9" y1="695.3" x2="927.6" y2="695.3" stroke="#202020" stroke-width="3.2"/>
<path d="M917.1,695.3 L928.6,688.6 L928.6,702 Z" fill="#202020"/>
<line x1="673.59" y1="720.34" x2="902.01" y2="775.26" stroke="#202020" stroke-width="3.3"/>
<path d="M913,777.9 L899.4,781.83 L902.68,768.22 Z M662.6,717.7 L676.2,713.77 L672.92,727.38 Z" fill="#202020"/>
<line x1="928.86" y1="752.06" x2="1086.44" y2="679.14" stroke="#202020" stroke-width="3.3"/>
<path d="M1096.7,674.4 L1088.48,685.92 L1082.6,673.21 Z M918.6,756.8 L926.82,745.28 L932.7,757.99 Z" fill="#202020"/>
<text x="0" y="0" transform="translate(813.9,530.5) rotate(0)" font-size="23.5" font-weight="bold" text-anchor="middle" dominant-baseline="central">5 cm</text>
<text x="0" y="0" transform="translate(694.1,631.8) rotate(-90)" font-size="23.5" font-weight="bold" text-anchor="middle" dominant-baseline="central">31 cm</text>
<text x="0" y="0" transform="translate(1137.4,596.4) rotate(-90)" font-size="23.5" font-weight="bold" text-anchor="middle" dominant-baseline="central">36 cm</text>
<text x="0" y="0" transform="translate(942.9,696.3) rotate(0)" font-size="23.5" font-weight="bold" text-anchor="start" dominant-baseline="central">3 cm</text>
<text x="0" y="0" transform="translate(782.3,761.7) rotate(11)" font-size="23.5" font-weight="bold" text-anchor="middle" dominant-baseline="central">65 cm</text>
<text x="0" y="0" transform="translate(1019.5,732.5) rotate(-24)" font-size="23.5" font-weight="bold" text-anchor="middle" dominant-baseline="central">65 cm</text>
<text x="1029" y="861.5" font-size="23.5" letter-spacing="1.3" style="stroke-width:0.15px">+/-</text>
<text x="1065.8" y="861.7" font-size="22.5" font-weight="bold">2 cm</text>
</svg>
</body></html>
